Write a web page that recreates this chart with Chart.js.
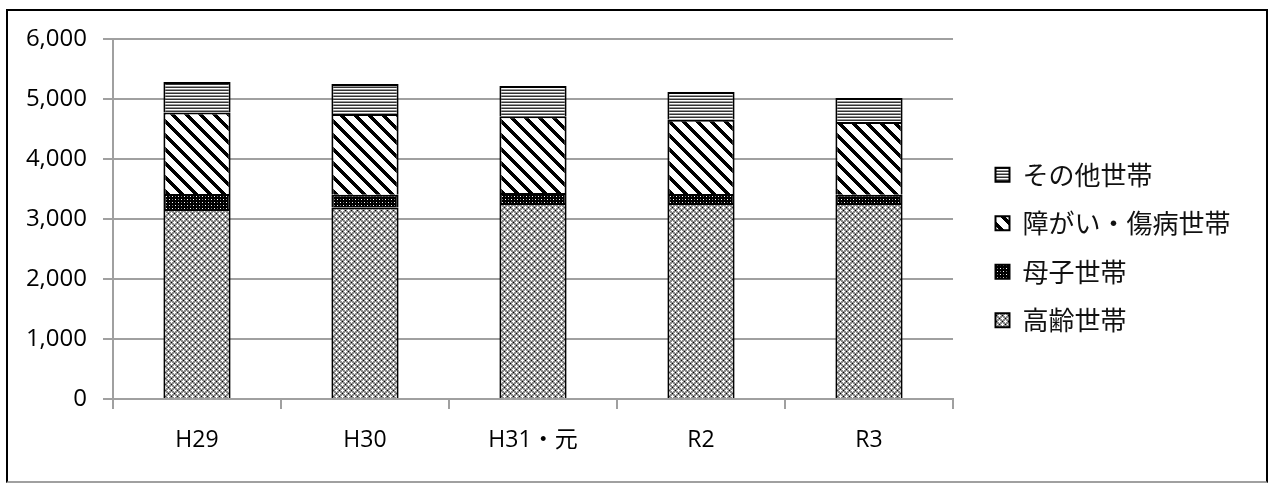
<!DOCTYPE html>
<html>
<head>
<meta charset="utf-8">
<script src="https://cdn.jsdelivr.net/npm/chart.js@4/dist/chart.umd.min.js"></script>
<style>
  html, body { margin: 0; padding: 0; background: #fff; }
  #frame { position: absolute; left: 6px; top: 9px; width: 1262px; height: 474px;
           border-left: 2px solid #000; border-top: 2px solid #000; border-right: 2px solid #000;
           border-bottom: 2px solid #a0a0a0; box-sizing: border-box; }
  #c { position: absolute; left: 0; top: 0; }
</style>
</head>
<body>
<div id="frame"></div>
<canvas id="c" width="1270" height="501"></canvas>
<script>
// ---- data ----
const categories = ['H29', 'H30', 'H31・元', 'R2', 'R3'];
const elderly    = [3167, 3193, 3267, 3267, 3267];   // 高齢世帯
const mother     = [250, 212, 167, 150, 138];        // 母子世帯
const disabled   = [1360, 1345, 1277, 1238, 1212];   // 障がい・傷病世帯
const other      = [506, 500, 507, 462, 400];        // その他世帯
const seriesNames = ['高齢世帯', '母子世帯', '障がい・傷病世帯', 'その他世帯'];
const yTicks = [0, 1000, 2000, 3000, 4000, 5000, 6000];

// ---- patterns ----
const mainCtx = document.getElementById('c').getContext('2d');
function tile(w, h, fn) {
  const cv = document.createElement('canvas');
  cv.width = w; cv.height = h;
  const t = cv.getContext('2d');
  fn(t, (x, y, col) => { t.fillStyle = col; t.fillRect(x, y, 1, 1); });
  return mainCtx.createPattern(cv, 'repeat');
}
const patElderly = tile(6, 6, (t, p) => {
  t.fillStyle = '#8c8c8c'; t.fillRect(0, 0, 6, 6);
  [[3,3],[2,3],[4,3],[3,2],[3,4],[0,0],[1,0],[5,0],[0,1],[0,5]].forEach(([x,y]) => p(x, y, '#ffffff'));
  [[0,3],[3,0]].forEach(([x,y]) => p(x, y, '#000000'));
});
const patMother = tile(6, 6, (t, p) => {
  t.fillStyle = '#000'; t.fillRect(0, 0, 6, 6);
  p(1, 1, '#ffffff'); p(4, 4, '#ffffff');
  p(4, 1, '#777777'); p(1, 4, '#777777');
});
const patDisabled = tile(14, 14, (t, p) => {
  t.fillStyle = '#fff'; t.fillRect(0, 0, 14, 14);
  for (let y = 0; y < 14; y++) for (let x = 0; x < 14; x++) {
    if ((((x - y) % 14) + 14) % 14 < 5) p(x, y, '#000');
  }
});
const patOther = tile(4, 3, (t, p) => {
  t.fillStyle = '#333333'; t.fillRect(0, 0, 4, 1);
  t.fillStyle = '#ffffff'; t.fillRect(0, 1, 4, 1);
  t.fillStyle = '#999999'; t.fillRect(0, 2, 4, 1);
});

const gridColor = '#a0a0a0';
const fam = "'Open Sans', 'Noto Sans CJK JP', sans-serif";

function ds(label, data, bg) {
  return { label, data, backgroundColor: bg, borderColor: '#000', borderWidth: 2,
           barPercentage: 0.4, categoryPercentage: 1.0 };
}

new Chart(mainCtx, {
  type: 'bar',
  data: {
    labels: categories,
    datasets: [
      ds(seriesNames[0], elderly, patElderly),
      ds(seriesNames[1], mother, patMother),
      ds(seriesNames[2], disabled, patDisabled),
      ds(seriesNames[3], other, patOther)
    ]
  },
  options: {
    responsive: false,
    animation: false,
    devicePixelRatio: 1,
    layout: { padding: { top: 0, left: 0, right: 29.5, bottom: 6 } },
    plugins: {
      tooltip: { enabled: false },
      title: { display: true, text: ' ', fullSize: false, position: 'top',
               font: { size: 10, lineHeight: 1.2 }, padding: { top: 27, bottom: 0 } },
      legend: {
        position: 'right',
        reverse: true,
        maxWidth: 400,
        labels: {
          boxWidth: 14, boxHeight: 14, padding: 22.5, color: '#111',
          font: { family: "'Noto Sans CJK JP', sans-serif", size: 26 }
        }
      }
    },
    scales: {
      x: {
        stacked: true,
        grid: { display: true, drawOnChartArea: false, offset: true, tickLength: 10,
                color: gridColor, lineWidth: 2 },
        border: { display: true, color: gridColor, width: 2 },
        ticks: { color: '#000', font: { family: fam, size: 23 }, padding: 18, maxRotation: 0 },
        afterFit: (s) => { s.height = 96; }
      },
      y: {
        stacked: true,
        min: 0, max: 6000,
        afterBuildTicks: (s) => { s.ticks = yTicks.map(v => ({ value: v })); },
        grid: { color: gridColor, lineWidth: 2, tickLength: 10 },
        border: { display: true, color: gridColor, width: 2 },
        ticks: { color: '#000', font: { family: fam, size: 24 }, padding: 16,
                 callback: (v) => Number(v).toLocaleString('en-US') },
        afterFit: (s) => { s.width = 113; }
      },
      gap: {
        type: 'linear', position: 'right', display: true,
        grid: { display: false }, border: { display: false }, ticks: { display: false },
        afterFit: (s) => { s.width = 20; }
      }
    }
  }
});
</script>
</body>
</html>
